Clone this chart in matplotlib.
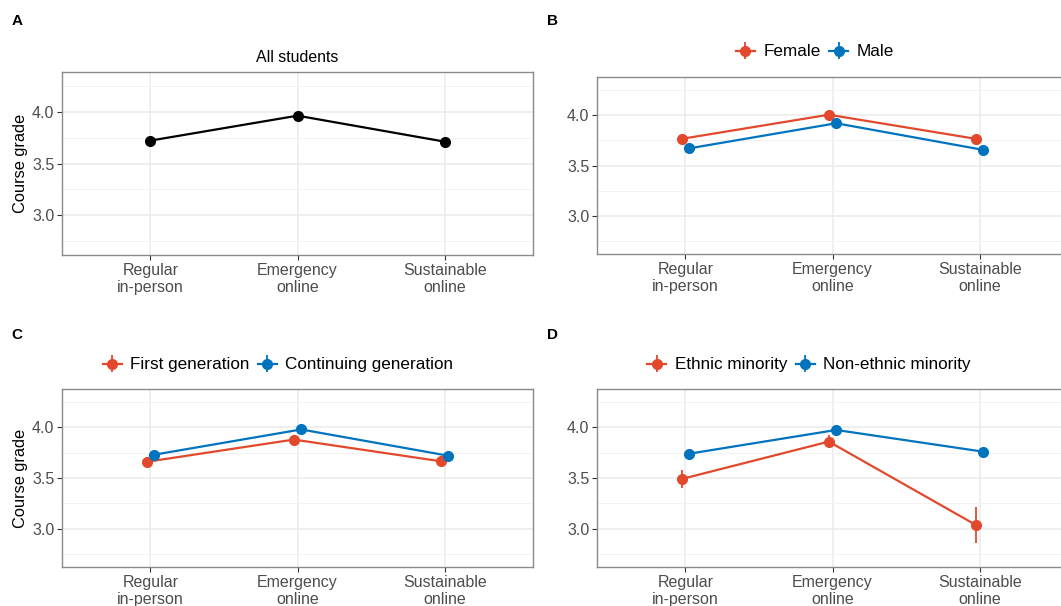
import matplotlib
matplotlib.use("Agg")
import matplotlib.pyplot as plt
import numpy as np
from matplotlib.ticker import MultipleLocator

plt.rcParams["font.family"] = ["Liberation Sans", "DejaVu Sans"]

categories = ["Regular\nin-person", "Emergency\nonline", "Sustainable\nonline"]

all_mean = [3.72, 3.96, 3.71]
all_se = [0.01, 0.01, 0.01]

female_mean = [3.765, 4.005, 3.765]
female_se = [0.02, 0.015, 0.02]
male_mean = [3.67, 3.92, 3.655]
male_se = [0.02, 0.015, 0.02]

firstgen_mean = [3.66, 3.88, 3.665]
firstgen_se = [0.05, 0.03, 0.05]
contgen_mean = [3.73, 3.98, 3.72]
contgen_se = [0.02, 0.015, 0.02]

minority_mean = [3.49, 3.86, 3.035]
minority_se = [0.085, 0.065, 0.175]
nonminority_mean = [3.74, 3.975, 3.76]
nonminority_se = [0.02, 0.015, 0.02]

RED = "#E2492C"
BLUE = "#0073BE"
W, H = 1061, 606


def px_axes(fig, x0, x1, ytop, ybot):
    return fig.add_axes([x0 / W, (H - ybot) / H, (x1 - x0) / W, (ybot - ytop) / H])


def style_axes(ax, ylabel=None):
    ax.set_xlim(0.4, 3.6)
    ax.set_ylim(2.62, 4.38)
    ax.set_xticks(np.arange(1, 4))
    ax.set_xticklabels(categories)
    ax.yaxis.set_major_locator(MultipleLocator(0.5))
    ax.yaxis.set_minor_locator(MultipleLocator(0.25))
    ax.set_yticks([3.0, 3.5, 4.0])
    ax.set_yticklabels(["3.0", "3.5", "4.0"])
    ax.grid(True, which="major", color="#EBEBEB", linewidth=1.1)
    ax.grid(True, which="minor", axis="y", color="#F2F2F2", linewidth=0.7)
    ax.set_axisbelow(True)
    ax.tick_params(axis="both", which="major", length=3.5, width=0.8, color="#333333",
                   labelcolor="#4D4D4D", labelsize=11.5, pad=2)
    ax.tick_params(axis="y", which="minor", length=0)
    for s in ax.spines.values():
        s.set_color("#8A8A8A")
        s.set_linewidth(1.0)
    if ylabel:
        ax.set_ylabel(ylabel, fontsize=11.8, color="black", labelpad=3)


def draw_series(ax, means, ses, color, offset, label=None):
    x = np.arange(1, 4) + offset
    return ax.errorbar(x, means, yerr=ses, fmt="-o", color=color, ecolor=color,
                       linewidth=1.6, elinewidth=1.3, markersize=7, capsize=0,
                       label=label, zorder=3)


fig = plt.figure(figsize=(W / 100, H / 100), dpi=100)

ax_a = px_axes(fig, 62, 533, 72, 255)
ax_b = px_axes(fig, 597, 1068, 77, 254)
ax_c = px_axes(fig, 62, 533, 389, 567)
ax_d = px_axes(fig, 597, 1068, 389, 567)

# A: all students
style_axes(ax_a, "Course grade")
draw_series(ax_a, all_mean, all_se, "black", 0.0)
ax_a.set_title("All students", fontsize=11.4, pad=7)

dodge = 0.025
panels = [
    (ax_b, "Female", female_mean, female_se, "Male", male_mean, male_se, None, 815, 52),
    (ax_c, "First generation", firstgen_mean, firstgen_se, "Continuing generation",
     contgen_mean, contgen_se, "Course grade", 278, 365),
    (ax_d, "Ethnic minority", minority_mean, minority_se, "Non-ethnic minority",
     nonminority_mean, nonminority_se, None, 809, 365),
]
for ax, lab1, m1, s1, lab2, m2, s2, ylab, lx, ly in panels:
    style_axes(ax, ylab)
    h1 = draw_series(ax, m1, s1, RED, -dodge, lab1)
    h2 = draw_series(ax, m2, s2, BLUE, dodge, lab2)
    fig.legend(handles=[h1, h2], loc="center", bbox_to_anchor=(lx / W, (H - ly) / H),
               ncol=2, frameon=False, fontsize=12.3, handlelength=1.1,
               handletextpad=0.5, columnspacing=0.5, borderpad=0)

for letter, x, y in [("A", 17, 21), ("B", 552, 21), ("C", 17, 335), ("D", 552, 335)]:
    fig.text(x / W, (H - y) / H, letter, fontsize=11, fontweight="bold",
             ha="center", va="center")

fig.savefig("out.png", dpi=100)
